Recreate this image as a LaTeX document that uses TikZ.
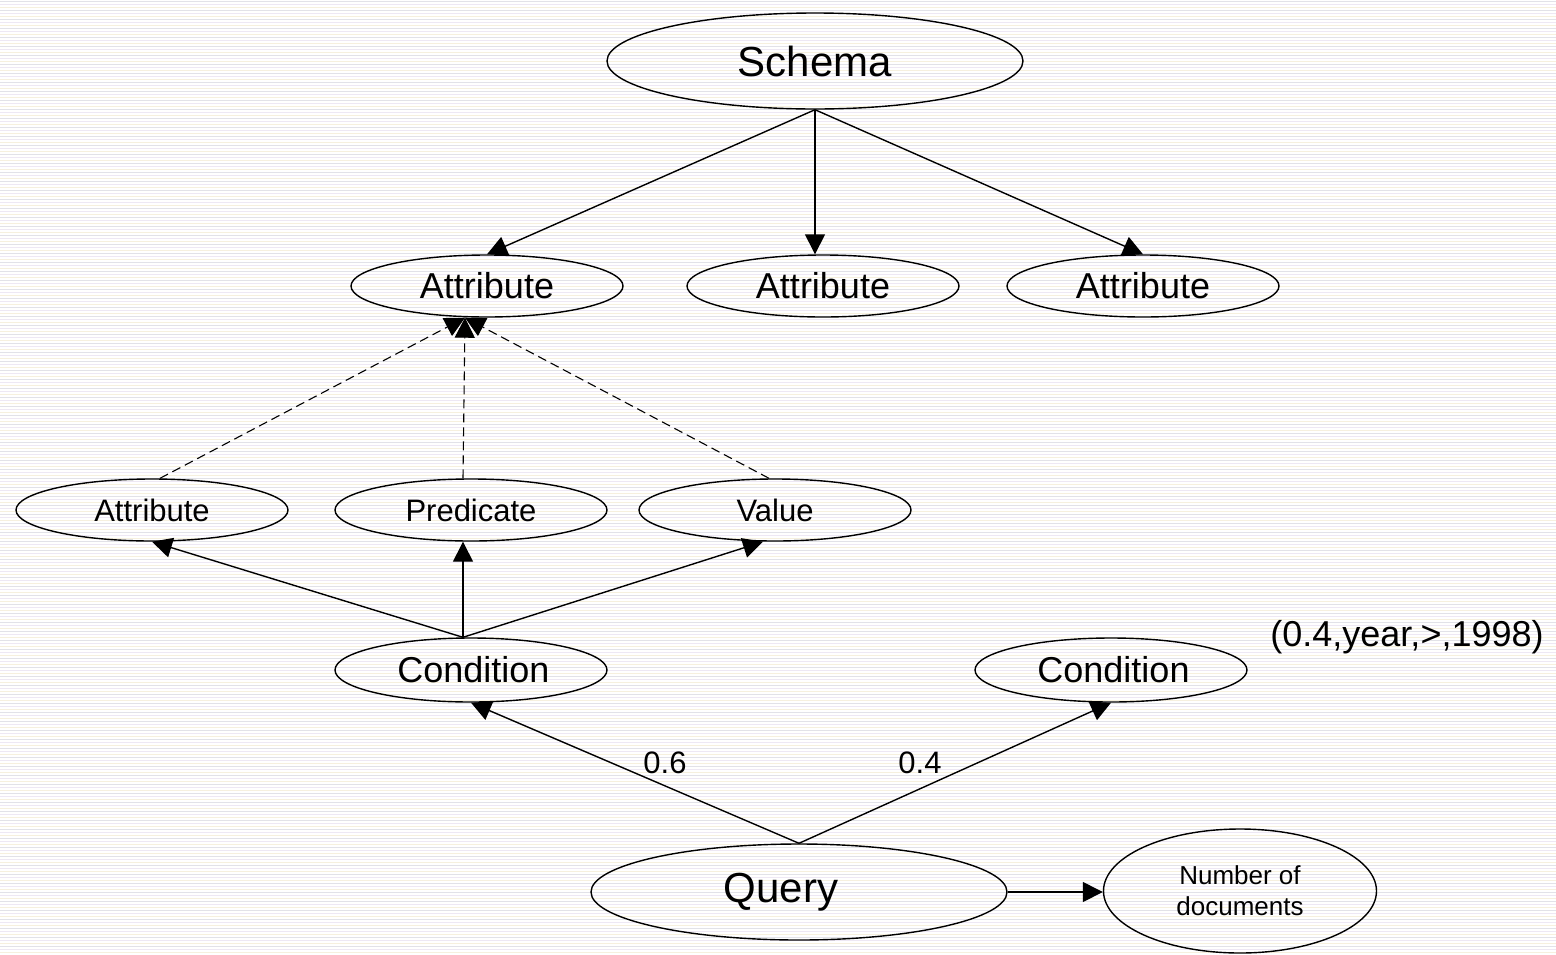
\documentclass[tikz,border=0pt]{standalone}
\usepackage{fontspec}
\setmainfont{Liberation Sans}
\usetikzlibrary{shapes.geometric,arrows.meta}
\definecolor{stripeA}{RGB}{226,226,232}
\definecolor{stripeB}{RGB}{238,232,244}
\definecolor{stripeC}{RGB}{246,240,222}
\begin{document}
\begin{tikzpicture}[x=1pt,y=-1pt,
  oval/.style={ellipse, draw, line width=1.4pt, inner sep=0pt},
  huge/.style={oval, minimum width=416pt, minimum height=96pt,
    font=\fontsize{42}{48}\selectfont},
  mid/.style={oval, minimum width=272pt, minimum height=62pt,
    font=\fontsize{36}{42}\selectfont},
  small/.style={oval, minimum width=272pt, minimum height=62pt,
    font=\fontsize{31}{36}\selectfont},
  tiny/.style={oval, minimum width=273pt, minimum height=124pt,
    font=\fontsize{26}{31}\selectfont, align=center},
  conn/.style={line width=1.4pt, -{Triangle[length=20pt,width=20pt]}},
  link/.style={line width=1.1pt, dash pattern=on 9pt off 5pt,
    -{Triangle[length=20pt,width=20pt]}},
  weight/.style={font=\fontsize{31}{36}\selectfont, inner sep=0pt},
]
\useasboundingbox (0,0) rectangle (1556,954);
% striped backdrop
\fill[white] (0,0) rectangle (1556,954);
\foreach \y in {1,10,...,954} \draw[stripeA, line width=1pt] (0,\y) -- (1556,\y);
\foreach \y in {4,13,...,954} \draw[stripeB, line width=1pt] (0,\y) -- (1556,\y);
\foreach \y in {7,16,...,954} \draw[stripeC, line width=1pt] (0,\y) -- (1556,\y);

% nodes
\node[huge] (schema) at (815,61) {Schema};
\node[mid] (a1) at (487,286) {Attribute};
\node[mid] (a2) at (823,286) {Attribute};
\node[mid] (a3) at (1143,286) {Attribute};
\node[small] (ca) at (152,510) {Attribute};
\node[small] (cp) at (471,510) {Predicate};
\node[small] (cv) at (775,510) {Value};
\node[mid, minimum height=64pt] (c1) at (471,670) {\hspace*{5pt}Condition};
\node[mid, minimum height=64pt] (c2) at (1111,670) {\hspace*{5pt}Condition};
\node[huge] (query) at (799,892) {Query\hspace*{36pt}};
\node[tiny] (num) at (1240,891) {Number of\\documents};
\node[font=\fontsize{36}{42}\selectfont, inner sep=0pt] (tuple) at (1407,637) {(0.4,year,>,1998)};
\node[weight] (w1) at (665,763) {0.6};
\node[weight] (w2) at (920,763) {0.4};

% schema to attributes
\draw[conn] (schema.south) -- (a1.north);
\draw[conn] (schema.south) -- (schema.south |- a2.north);
\draw[conn] (schema.south) -- (a3.north);

% condition parts refer to the attribute
\coordinate (a1b) at ([xshift=-22pt]a1.south);
\draw[link] ([xshift=8pt]ca.north) -- (a1b);
\draw[link] ([xshift=-8pt]cp.north) -- (a1b);
\draw[link] ([xshift=-6pt]cv.north) -- (a1b);

% condition to its parts
\coordinate (c1t) at ([xshift=-8pt]c1.north);
\draw[conn] (c1t) -- (ca.south);
\draw[conn] (c1t) -- (c1t |- cp.south);
\draw[conn] (c1t) -- ([xshift=-12pt]cv.south);

% query to conditions and result
\draw[conn] (query.north) -- (c1.south);
\draw[conn] (query.north) -- (c2.south);
\draw[conn] (query.east) -- (query.east -| num.west);
\end{tikzpicture}
\end{document}
